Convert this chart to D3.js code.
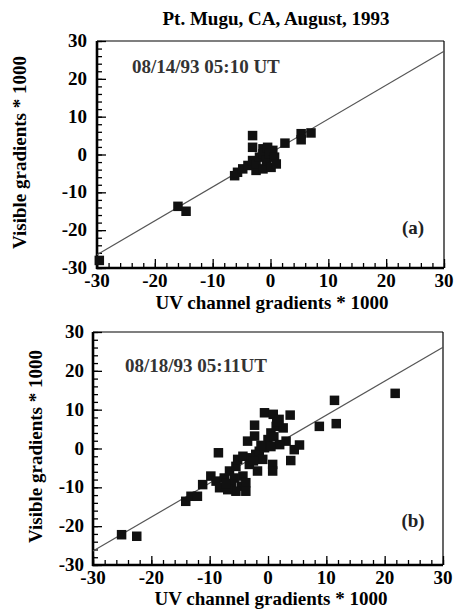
<!DOCTYPE html>
<html>
<head>
<meta charset="utf-8">
<script src="https://cdn.jsdelivr.net/npm/d3@7"></script>
<style>
  html, body { margin: 0; padding: 0; background: #fff; }
  svg text { font-family: "Liberation Serif", "Times New Roman", serif; font-weight: bold; }
</style>
</head>
<body>
<svg id="chart" width="455" height="611"></svg>
<script>
// ---- data ----
const titleText = "Pt. Mugu, CA, August, 1993";
const xLabelText = "UV channel gradients * 1000";
const yLabelText = "Visible gradients * 1000";
const tickValues = [-30, -20, -10, 0, 10, 20, 30];
const minorTickValues = d3.range(-30, 31, 2);

const stampA = "08/14/93 05:10 UT";
const tagA = "(a)";
const uvA  = [-29.6, -16.0, -14.6, -6.2, -5.7, -4.8, -3.9, -3.1, -3.1, -3.1, -2.5, -2.5, -1.9, -1.3, -1.3, -1.3, -0.7, -0.5, -0.2, 0.1, 0.4, 0.7, 1.0, 2.5, 5.3, 5.3, 7.0];
const visA = [-28.0, -13.7, -15.0, -5.6, -4.7, -3.8, -2.9, 5.0, 1.9, -1.6, -4.2, -2.5, -0.7, 1.5, 0.2, -3.8, -1.6, 1.9, 0.2, -3.4, 1.1, -0.7, -2.5, 3.0, 5.5, 3.9, 5.7];
const fitUvA = [-30, 30];
const fitVisA = [-26.5, 27.3];

const stampB = "08/18/93 05:11UT";
const tagB = "(b)";
const uvB  = [-25.1, -22.5, -14.1, -13.2, -12.1, -11.2, -9.8, -8.9, -8.3, -8.5, -7.5, -6.6, -5.8, -4.3, -6.3, -4.6, -3.8, -5.5, -3.8, -6.9, -7.2, -5.5, -5.2, -4.3, -2.9, -2.1, -1.5, -0.6, -0.9, -1.8, 0.8, 0.8, 3.9, 4.5, 5.4, 3.1, 0.0, -3.5, -2.3, 0.5, 1.4, 2.6, -2.3, -0.6, 0.9, 1.9, 3.8, 1.0, 2.0, -1.2, 1.5, 8.8, 11.4, 11.7, 21.8, -3.2, -2.5, 0.5];
const visB = [-22.2, -22.6, -13.6, -12.3, -12.3, -9.3, -7.1, -8.4, -10.1, -1.1, -7.6, -5.8, -7.6, -7.1, -9.3, -9.7, -8.8, -11.0, -11.0, -10.6, -9.0, -4.6, -2.8, -2.0, -2.4, -1.5, -0.7, 0.2, -2.8, -5.8, -4.1, -5.8, -3.1, -0.3, 0.9, 1.9, 2.3, 1.9, 3.2, 4.0, 5.7, 5.3, 6.0, 9.2, 8.8, 7.5, 8.6, 3.0, 1.0, 0.8, 6.8, 5.7, 12.4, 6.4, 14.2, -4.1, -3.2, 0.5];
const fitUvB = [-30, 30];
const fitVisB = [-26.4, 26.1];

// ---- drawing ----
const svg = d3.select("#chart");
const FS = 19;

svg.append("text")
  .attr("x", 276).attr("y", 25)
  .attr("text-anchor", "middle")
  .attr("font-size", FS)
  .text(titleText);

function panel(cfg) {
  const x = d3.scaleLinear().domain([-30, 30]).range([cfg.left, cfg.right]);
  const y = d3.scaleLinear().domain([-30, 30]).range([cfg.bottom, cfg.top]);
  const g = svg.append("g");

  // frame: thin top/right
  g.append("line").attr("x1", cfg.left).attr("x2", cfg.right).attr("y1", cfg.top).attr("y2", cfg.top)
    .attr("stroke", "#000").attr("stroke-width", 1.2);
  g.append("line").attr("x1", cfg.right).attr("x2", cfg.right).attr("y1", cfg.top).attr("y2", cfg.bottom)
    .attr("stroke", "#000").attr("stroke-width", 1.2);

  // left axis, ticks inside
  const yAxis = d3.axisRight(y).tickValues(tickValues).tickSize(9).tickFormat("");
  const yMinor = d3.axisRight(y).tickValues(minorTickValues).tickSize(5).tickFormat("");
  const gyMinor = g.append("g").attr("transform", `translate(${cfg.left},0)`).call(yMinor);
  const gy = g.append("g").attr("transform", `translate(${cfg.left},0)`).call(yAxis);
  [gy, gyMinor].forEach(a => { a.select(".domain").remove(); a.selectAll("line").attr("stroke", "#000").attr("stroke-width", 1.3); });

  const xAxis = d3.axisTop(x).tickValues(tickValues).tickSize(9).tickFormat("");
  const xMinor = d3.axisTop(x).tickValues(minorTickValues).tickSize(5).tickFormat("");
  const gxMinor = g.append("g").attr("transform", `translate(0,${cfg.bottom})`).call(xMinor);
  const gx = g.append("g").attr("transform", `translate(0,${cfg.bottom})`).call(xAxis);
  [gx, gxMinor].forEach(a => { a.select(".domain").remove(); a.selectAll("line").attr("stroke", "#000").attr("stroke-width", 1.3); });

  // thick left and bottom lines
  g.append("line").attr("x1", cfg.left).attr("x2", cfg.left).attr("y1", cfg.top).attr("y2", cfg.bottom + 1)
    .attr("stroke", "#000").attr("stroke-width", 2.6);
  g.append("line").attr("x1", cfg.left - 1).attr("x2", cfg.right).attr("y1", cfg.bottom).attr("y2", cfg.bottom)
    .attr("stroke", "#000").attr("stroke-width", 2.6);

  // tick labels
  g.selectAll(".ylab").data(tickValues).enter().append("text")
    .attr("x", cfg.left - cfg.yTickGap).attr("y", d => y(d) + 6)
    .attr("text-anchor", "end").attr("font-size", FS)
    .text(d => d);
  g.selectAll(".xlab").data(tickValues).enter().append("text")
    .attr("x", d => x(d)).attr("y", cfg.bottom + 19)
    .attr("text-anchor", "middle").attr("font-size", FS)
    .text(d => d);

  // axis titles
  g.append("text")
    .attr("x", cfg.xLabelX).attr("y", cfg.xLabelY)
    .attr("text-anchor", "middle").attr("font-size", FS)
    .text(xLabelText);
  g.append("text")
    .attr("transform", `translate(${cfg.yLabelX},${(cfg.top + cfg.bottom) / 2 + cfg.yLabelShift}) rotate(-90)`)
    .attr("text-anchor", "middle").attr("font-size", FS)
    .text(yLabelText);

  // fit line
  g.append("line")
    .attr("x1", x(cfg.fitX[0])).attr("y1", y(cfg.fitY[0]))
    .attr("x2", x(cfg.fitX[1])).attr("y2", y(cfg.fitY[1]))
    .attr("stroke", "#555").attr("stroke-width", 1.2);

  // points
  const s = 9.5;
  g.selectAll(".pt").data(cfg.u.map((u, i) => [u, cfg.v[i]])).enter().append("rect")
    .attr("x", d => x(d[0]) - s / 2).attr("y", d => y(d[1]) - s / 2)
    .attr("width", s).attr("height", s)
    .attr("fill", "#111");

  // annotations
  g.append("text").attr("x", cfg.stampX).attr("y", cfg.stampY)
    .attr("font-size", FS).attr("fill", "#333").text(cfg.stamp);
  g.append("text").attr("x", 413).attr("y", cfg.tagY)
    .attr("text-anchor", "middle").attr("font-size", FS).attr("fill", "#222").text(cfg.tag);
}

panel({ id: "A", left: 97, right: 444, top: 41, bottom: 268,
  u: uvA, v: visA, fitX: fitUvA, fitY: fitVisA,
  stamp: stampA, stampX: 132, stampY: 73, tag: tagA, tagY: 234,
  xLabelX: 272, xLabelY: 309, yLabelX: 26, yLabelShift: -2, yTickGap: 10 });

panel({ id: "B", left: 93, right: 443, top: 332, bottom: 565,
  u: uvB, v: visB, fitX: fitUvB, fitY: fitVisB,
  stamp: stampB, stampX: 125, stampY: 372, tag: tagB, tagY: 527,
  xLabelX: 271, xLabelY: 605, yLabelX: 42, yLabelShift: -2, yTickGap: 9 });
</script>
</body>
</html>
